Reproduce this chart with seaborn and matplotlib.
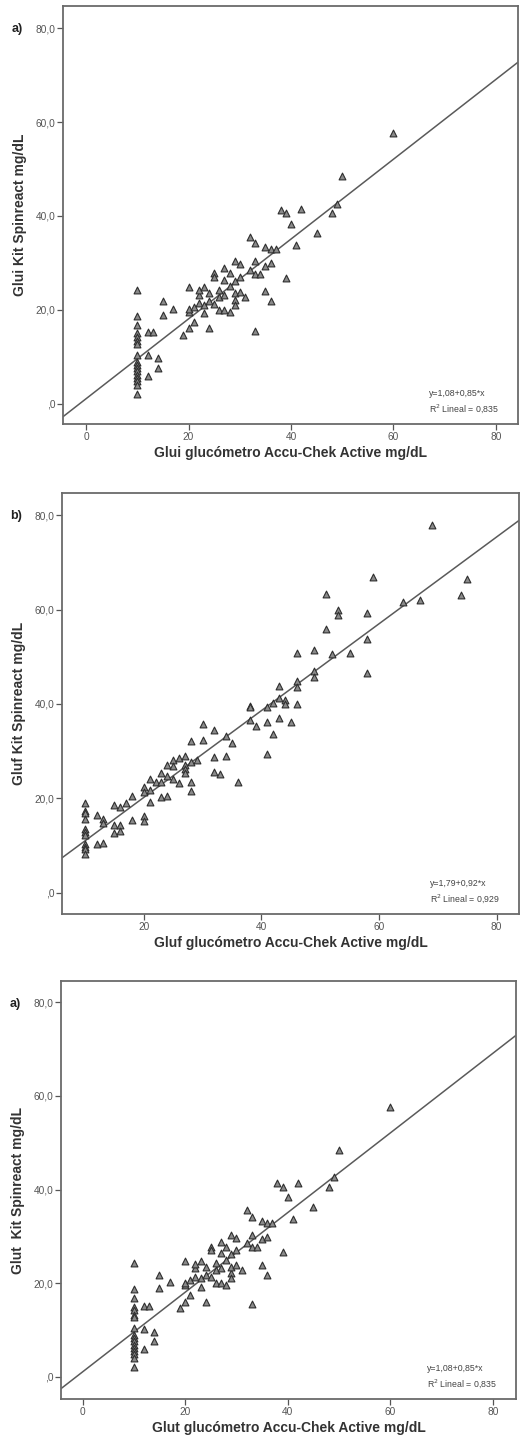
import numpy as np
import pandas as pd
import matplotlib
matplotlib.use("Agg")
import matplotlib.pyplot as plt
import seaborn as sns

# ---------------- data ----------------
glui_x = [10]*17 + [12, 12, 12, 13, 14, 14, 15, 15, 17, 19,
          20, 20, 20, 20, 21, 21, 22, 22, 22, 23, 23, 23, 24, 24, 24,
          25, 25, 25, 26, 26, 26, 27, 27, 27, 27, 28, 28, 28,
          29, 29, 29, 29, 29, 30, 30, 30, 31, 32, 32,
          33, 33, 33, 33, 34, 35, 35, 35, 36, 36, 36, 37,
          38, 39, 39, 40, 41, 42, 45, 48, 49, 50, 60]
glui_y = [24.3, 18.7, 16.8, 15.0, 14.3, 13.3, 12.8, 10.4, 9.0, 8.3, 7.6, 6.9, 6.2, 5.5, 4.8, 4.0, 2.1,
          15.2, 10.3, 6.0, 15.2, 9.7, 7.7, 21.8, 18.9, 20.2, 14.7,
          24.8, 19.6, 16.1, 20.1, 17.5, 20.7, 23.2, 21.4, 24.2, 24.8, 21.1, 19.3, 16.1, 23.5, 21.8,
          21.3, 27.8, 27.1, 22.8, 20.0, 24.3, 23.2, 28.9, 20.0, 26.4, 19.6, 27.8, 25.0,
          30.3, 22.1, 21.1, 23.5, 26.2, 27.0, 23.9, 29.7, 22.8, 35.6, 28.5,
          34.2, 30.3, 27.7, 15.5, 27.7, 33.3, 29.4, 24.0, 32.9, 29.9, 21.8, 32.9,
          41.3, 40.6, 26.7, 38.3, 33.8, 41.4, 36.3, 40.6, 42.6, 48.5, 57.6]

gluf_x = [10]*11 + [12, 12, 13, 13, 13, 15, 15, 15, 16, 16, 16, 17, 18, 18,
          20, 20, 20, 20, 21, 21, 21, 22, 23, 23, 23, 24, 24, 24, 25, 25, 25,
          26, 26, 27, 27, 27, 27, 28, 28, 28, 28, 29, 30, 30, 32, 32, 32, 33,
          34, 34, 35, 36, 38, 38, 38, 39, 41, 41, 41, 42, 42, 43, 43, 43,
          44, 44, 45, 46, 46, 46, 46, 49, 49, 49, 51, 51, 52, 53, 53, 55,
          58, 58, 58, 59, 64, 67, 69, 74, 75]
gluf_y = [19.1, 17.3, 16.8, 15.7, 13.6, 12.9, 12.2, 10.4, 9.7, 9.2, 8.3,
          16.4, 10.3, 15.7, 10.6, 14.7, 18.7, 14.3, 12.7, 18.2, 14.3, 13.1, 19.1, 20.5, 15.5,
          22.4, 21.4, 16.2, 15.2, 24.0, 21.7, 19.3, 23.5, 25.4, 23.4, 20.3, 27.0, 24.7, 20.5,
          28.1, 26.8, 24.0, 28.5, 23.2, 28.9, 27.0, 26.3, 25.4, 32.2, 27.7, 23.4, 21.6, 28.2,
          35.7, 32.3, 34.5, 28.7, 25.6, 25.1, 33.3, 28.9, 31.8, 23.4, 39.5, 39.3, 36.7, 35.3,
          39.4, 36.2, 29.4, 40.3, 33.7, 43.8, 41.2, 37.1, 40.8, 40.1, 36.2,
          44.9, 43.5, 50.7, 39.9, 51.4, 47.0, 45.7, 63.2, 55.8, 50.5, 60.0, 58.9, 50.7,
          59.2, 53.7, 46.6, 66.9, 61.5, 62.1, 78.0, 63.1, 66.4]

# fitted lines as reported in the reference
fit_a = {"intercept": 1.08, "slope": 0.85, "r2": "0,835"}
fit_b = {"intercept": 1.79, "slope": 0.92, "r2": "0,929"}

y_ticks = [0, 20, 40, 60, 80]
y_tick_labels = [",0", "20,0", "40,0", "60,0", "80,0"]
x_ticks = [0, 20, 40, 60, 80]

panels = [
    dict(tag="a)", x=glui_x, y=glui_y, fit=fit_a,
         xlabel="Glui glucómetro Accu-Chek Active mg/dL",
         ylabel="Glui Kit Spinreact mg/dL",
         xlim=(-4.5, 84.3), ylim=(-4.3, 84.7),
         rect=[63/523, 1-424/1439, 455/523, 418/1439]),
    dict(tag="b)", x=gluf_x, y=gluf_y, fit=fit_b,
         xlabel="Gluf glucómetro Accu-Chek Active mg/dL",
         ylabel="Gluf Kit Spinreact mg/dL",
         xlim=(6.1, 83.8), ylim=(-4.5, 84.7),
         rect=[62/523, 1-914/1439, 457/523, 421/1439]),
    dict(tag="a)", x=glui_x, y=glui_y, fit=fit_a,
         xlabel="Glut glucómetro Accu-Chek Active mg/dL",
         ylabel="Glut  Kit Spinreact mg/dL",
         xlim=(-4.2, 84.5), ylim=(-4.7, 84.5),
         rect=[61/523, 1-1399/1439, 455/523, 418/1439]),
]

sns.set_theme(style="white")
plt.rcParams["font.family"] = ["Liberation Sans", "DejaVu Sans"]

fig = plt.figure(figsize=(5.23, 14.39), dpi=100)
fig.patch.set_facecolor("white")

for p in panels:
    ax = fig.add_axes(p["rect"])
    df = pd.DataFrame({"x": p["x"], "y": p["y"]})
    ax.set_xlim(*p["xlim"])
    ax.set_ylim(*p["ylim"])
    fit = p["fit"]
    ax.axline((0, fit["intercept"]), slope=fit["slope"], color="#5a5a5a",
              lw=1.1, zorder=1)
    sns.scatterplot(data=df, x="x", y="y", ax=ax, marker="^", s=24,
                    color="#8a8a8a", edgecolor="#2e2e2e", linewidth=0.8,
                    zorder=3)
    xt = [t for t in x_ticks if p["xlim"][0] <= t <= p["xlim"][1]]
    ax.set_xticks(xt)
    ax.set_xticklabels([str(t) for t in xt])
    ax.set_yticks(y_ticks)
    ax.set_yticklabels(y_tick_labels)
    ax.tick_params(axis="both", which="both", direction="out", length=4,
                   width=0.9, color="#555555", labelsize=7.3,
                   labelcolor="#555555", pad=1.5,
                   bottom=True, left=True, top=False, right=False)
    for s in ax.spines.values():
        s.set_color("#6a6a6a")
        s.set_linewidth(1.3)
    ax.set_xlabel(p["xlabel"], fontsize=10, fontweight="bold",
                  color="#333333", labelpad=3)
    ax.set_ylabel(p["ylabel"], fontsize=10, fontweight="bold",
                  color="#333333", labelpad=6)
    ax.text(0.805, 0.072, "y=%s+%s*x" % (str(fit["intercept"]).replace(".", ","),
                                        str(fit["slope"]).replace(".", ",")),
            transform=ax.transAxes, fontsize=6.3, color="#444444",
            ha="left", va="center")
    ax.text(0.805, 0.036, "R$^2$ Lineal = %s" % fit["r2"],
            transform=ax.transAxes, fontsize=6.3, color="#444444",
            ha="left", va="center")
    ax.text(-0.1, 0.945, p["tag"], transform=ax.transAxes, fontsize=9,
            fontweight="bold", color="#222222", ha="center", va="center")

fig.savefig("out.png", dpi=100, facecolor="white")
